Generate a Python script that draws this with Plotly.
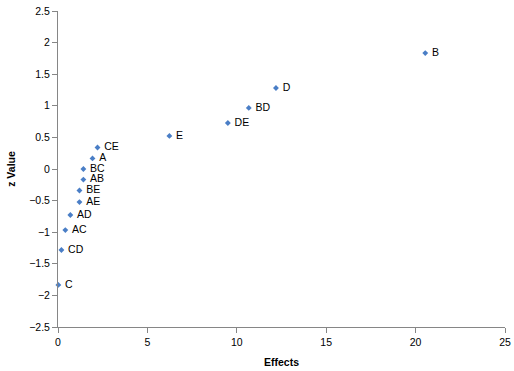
import plotly.graph_objects as go

labels = ["C", "CD", "AC", "AD", "AE", "BE", "AB", "BC", "A", "CE", "E", "DE", "BD", "D", "B"]
effects = [0.02, 0.19, 0.41, 0.69, 1.20, 1.20, 1.42, 1.42, 1.93, 2.21, 6.23, 9.50, 10.67, 12.19, 20.54]
z_values = [-1.834, -1.282, -0.967, -0.728, -0.524, -0.341, -0.168, 0.0, 0.168, 0.341, 0.524, 0.728, 0.967, 1.282, 1.834]

x_ticks = [0, 5, 10, 15, 20, 25]
y_ticks = [-2.5, -2, -1.5, -1, -0.5, 0, 0.5, 1, 1.5, 2, 2.5]

FONT = "Liberation Sans"
AXC = "#868686"

fig = go.Figure(go.Scatter(
    x=effects, y=z_values, mode="markers+text",
    text=labels, texttemplate="\u00a0%{text}", textposition="middle right",
    textfont=dict(family=FONT, size=10.5, color="#000000"),
    marker=dict(symbol="diamond", size=4.5, color="#4A7EC6"),
    cliponaxis=False, showlegend=False,
))

fig.update_layout(
    width=514, height=371,
    margin=dict(l=58, r=9, t=11, b=44, autoexpand=False),
    paper_bgcolor="white", plot_bgcolor="white",
    font=dict(family=FONT, size=10.5, color="#000000"),
)
fig.update_xaxes(
    range=[0, 25], tickvals=x_ticks, showgrid=False, zeroline=False,
    showline=True, linecolor=AXC, linewidth=1, automargin=False,
    ticks="outside", ticklen=5, tickcolor=AXC,
    tickfont=dict(family=FONT, size=10.5),
    title=dict(text="<b>Effects</b>", font=dict(family=FONT, size=10.5), standoff=12),
)
fig.update_yaxes(
    range=[-2.5, 2.5], tickvals=y_ticks, showgrid=False, zeroline=False,
    showline=True, linecolor=AXC, linewidth=1, automargin=False,
    ticks="outside", ticklen=5, tickcolor=AXC,
    tickfont=dict(family=FONT, size=10.5),
    title=dict(text="<b>z Value</b>", font=dict(family=FONT, size=10.5), standoff=11),
)

fig.write_html(
    "out.html",
    config={"displayModeBar": False},
    post_script="document.body.style.margin='0';document.body.style.overflow='hidden';",
)
